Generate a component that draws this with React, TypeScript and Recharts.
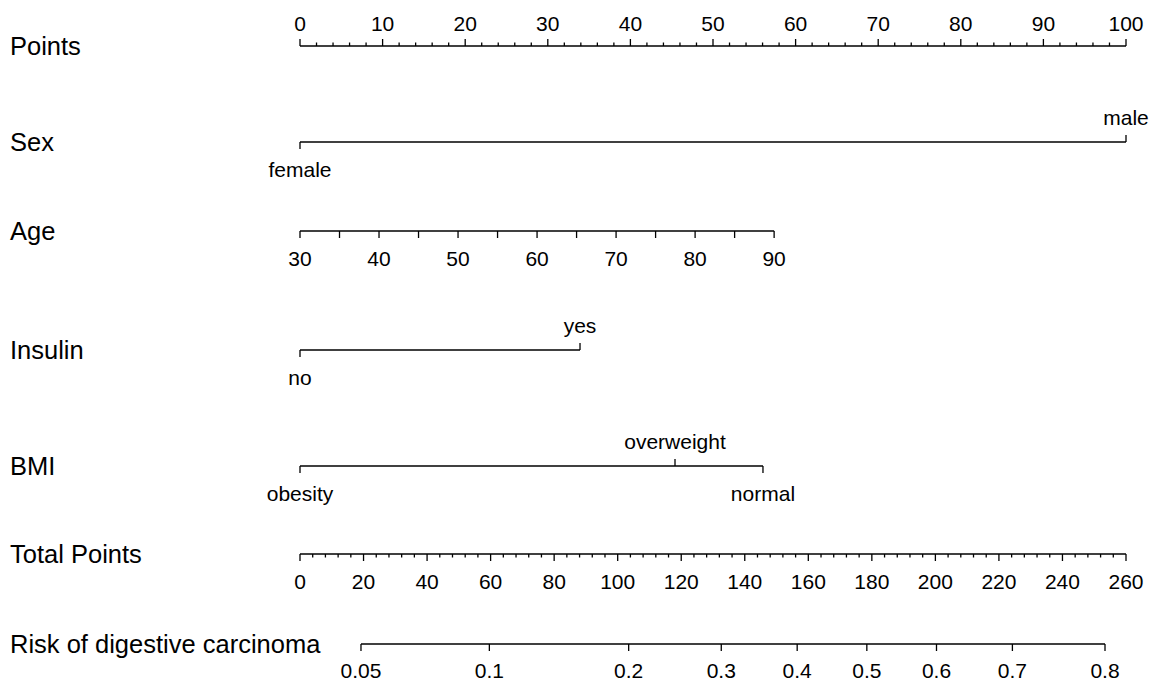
import { ComposedChart, XAxis, YAxis, Scatter, ReferenceLine } from 'recharts';

// row titles, top to bottom
const rowTitles = ['Points', 'Sex', 'Age', 'Insulin', 'BMI', 'Total Points', 'Risk of digestive carcinoma'];

// Points scale
const pointsLabels = [0, 10, 20, 30, 40, 50, 60, 70, 80, 90, 100];
const pointsMinorStep = 2;

// Sex
const sexLevels = ['female', 'male'];
const sexPoints = [0, 100];

// Age
const ageTicks = [30, 35, 40, 45, 50, 55, 60, 65, 70, 75, 80, 85, 90];
const ageLabels = [30, 40, 50, 60, 70, 80, 90];
const agePointsAtMax = 57.4;

// Insulin
const insulinLevels = ['no', 'yes'];
const insulinPoints = [0, 33.9];

// BMI
const bmiLevels = ['obesity', 'overweight', 'normal'];
const bmiPoints = [0, 45.4, 56.05];

// Total points scale
const totalLabels = [0, 20, 40, 60, 80, 100, 120, 140, 160, 180, 200, 220, 240, 260];
const totalMinorStep = 4;

// Risk (logistic model on total points)
const riskTicks = [0.05, 0.1, 0.2, 0.3, 0.4, 0.5, 0.6, 0.7, 0.8];
const riskIntercept = -3.2994;
const riskSlope = 0.018492;

// layout (chart is pinned to the page corner, so y values are page pixels)
const W = 1149;
const H = 685;
const rowY = [46, 142, 231, 350, 466, 554, 644];
const FONT = '"Liberation Sans", Arial, Helvetica, sans-serif';
const TICK_FS = 21;
const TITLE_FS = 25.5;
const MAJOR = 7;
const MINOR = 3.5;
const ABOVE = -24.5;
const BELOW = 27;

type TickDatum = { x: number; y: number; label: string | null; len: number; dir: number; dy: number };

function numericTicks(labels: number[], step: number, y: number, dir: number, dy: number): TickDatum[] {
  const out: TickDatum[] = [];
  const lo = labels[0];
  const hi = labels[labels.length - 1];
  for (let v = lo; v <= hi + 1e-9; v += step) {
    const major = labels.includes(v);
    out.push({ x: v, y, label: major ? String(v) : null, len: major ? MAJOR : MINOR, dir, dy });
  }
  return out;
}

function levelTicks(levels: string[], pts: number[], y: number): TickDatum[] {
  // labels alternate below / above the line, ticks point to the label
  return levels.map((lv, i) => {
    const up = i % 2 === 1;
    return { x: pts[i], y, label: lv, len: MAJOR, dir: up ? -1 : 1, dy: up ? ABOVE : BELOW };
  });
}

const pointsData = numericTicks(pointsLabels, pointsMinorStep, rowY[0], -1, -23);
const sexData = levelTicks(sexLevels, sexPoints, rowY[1]);
const ageData: TickDatum[] = ageTicks.map((a) => ({
  x: ((a - ageTicks[0]) / (ageTicks[ageTicks.length - 1] - ageTicks[0])) * agePointsAtMax,
  y: rowY[2],
  label: ageLabels.includes(a) ? String(a) : null,
  len: MAJOR,
  dir: 1,
  dy: BELOW
}));
const insulinData = levelTicks(insulinLevels, insulinPoints, rowY[3]);
const bmiData = levelTicks(bmiLevels, bmiPoints, rowY[4]);
const totalData = numericTicks(totalLabels, totalMinorStep, rowY[5], 1, BELOW);
const riskData: TickDatum[] = riskTicks.map((p) => ({
  x: (Math.log(p / (1 - p)) - riskIntercept) / riskSlope,
  y: rowY[6],
  label: String(p),
  len: MAJOR,
  dir: 1,
  dy: 26
}));
const titleData = rowTitles.map((t, i) => ({ x: 0, y: rowY[i], label: t }));

const TickShape = (props: any) => {
  const { cx, cy, payload } = props;
  return (
    <g>
      <line x1={cx} y1={cy} x2={cx} y2={cy + payload.dir * payload.len} stroke="#000" strokeWidth={1.3} />
      {payload.label != null && (
        <text
          x={cx}
          y={cy + payload.dy}
          textAnchor="middle"
          dominantBaseline="central"
          fontSize={TICK_FS}
          fontFamily={FONT}
          fill="#000"
        >
          {payload.label}
        </text>
      )}
    </g>
  );
};

const TitleShape = (props: any) => {
  const { cy, payload } = props;
  return (
    <text x={10} y={cy} dominantBaseline="central" fontSize={TITLE_FS} fontFamily={FONT} fill="#000">
      {payload.label}
    </text>
  );
};

const seg = (a: number, b: number, y: number) => [
  { x: a, y },
  { x: b, y }
];

export default function App() {
  const lineProps = { stroke: '#000', strokeWidth: 1.6, yAxisId: 'y', ifOverflow: 'visible' as const };
  return (
    <div style={{ position: 'fixed', left: 0, top: 0, width: W, height: H, background: '#fff' }}>
      <ComposedChart width={W} height={H} margin={{ top: 0, right: 23, bottom: 0, left: 300 }}>
        <XAxis xAxisId="pts" type="number" dataKey="x" domain={[0, 100]} hide />
        <XAxis xAxisId="tot" type="number" dataKey="x" domain={[0, 260]} hide />
        <YAxis yAxisId="y" type="number" dataKey="y" domain={[0, H]} reversed hide />

        <ReferenceLine xAxisId="pts" segment={seg(0, 100, rowY[0])} {...lineProps} />
        <ReferenceLine xAxisId="pts" segment={seg(sexPoints[0], sexPoints[1], rowY[1])} {...lineProps} />
        <ReferenceLine xAxisId="pts" segment={seg(0, agePointsAtMax, rowY[2])} {...lineProps} />
        <ReferenceLine xAxisId="pts" segment={seg(insulinPoints[0], insulinPoints[1], rowY[3])} {...lineProps} />
        <ReferenceLine xAxisId="pts" segment={seg(bmiPoints[0], bmiPoints[2], rowY[4])} {...lineProps} />
        <ReferenceLine xAxisId="tot" segment={seg(0, 260, rowY[5])} {...lineProps} />
        <ReferenceLine
          xAxisId="tot"
          segment={seg(riskData[0].x, riskData[riskData.length - 1].x, rowY[6])}
          {...lineProps}
        />

        <Scatter xAxisId="pts" yAxisId="y" data={titleData} shape={TitleShape} isAnimationActive={false} />
        <Scatter xAxisId="pts" yAxisId="y" data={pointsData} shape={TickShape} isAnimationActive={false} />
        <Scatter xAxisId="pts" yAxisId="y" data={sexData} shape={TickShape} isAnimationActive={false} />
        <Scatter xAxisId="pts" yAxisId="y" data={ageData} shape={TickShape} isAnimationActive={false} />
        <Scatter xAxisId="pts" yAxisId="y" data={insulinData} shape={TickShape} isAnimationActive={false} />
        <Scatter xAxisId="pts" yAxisId="y" data={bmiData} shape={TickShape} isAnimationActive={false} />
        <Scatter xAxisId="tot" yAxisId="y" data={totalData} shape={TickShape} isAnimationActive={false} />
        <Scatter xAxisId="tot" yAxisId="y" data={riskData} shape={TickShape} isAnimationActive={false} />
      </ComposedChart>
    </div>
  );
}
